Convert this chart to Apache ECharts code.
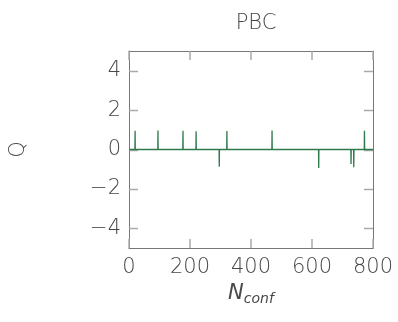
<!DOCTYPE html>
<html><head><meta charset="utf-8">
<script src="https://cdn.jsdelivr.net/npm/echarts@6/dist/echarts.min.js"></script>
<style>html,body{margin:0;padding:0;background:#fff}#c{width:398px;height:322px}</style>
</head><body><div id="c"></div>
<script>
// Data
var spikeN = [20, 58, 95, 177, 220, 296, 321, 424, 469, 622, 728, 737, 772];
var spikeQ = [0.95, 0.05, 0.97, 0.95, 0.93, -0.87, 0.94, 0.1, 0.97, -0.94, -0.74, -0.9, 0.95];
var xTicks = [0, 200, 400, 600, 800];
var yTicks = [-4, -2, 0, 2, 4];
var titleText = 'PBC';

var pts = [[0, 0]];
for (var i = 0; i < spikeN.length; i++) {
  pts.push([spikeN[i] - 0.6, 0]);
  pts.push([spikeN[i], spikeQ[i]]);
  pts.push([spikeN[i] + 0.6, 0]);
}
pts.push([800, 0]);

var font = 'DejaVu Sans';
var fw = 200;
var fs = 21;
var txt = '#484848';
var frame = '#777';
var tick = '#aaa';
var tickLen = 9;
var chart = echarts.init(document.getElementById('c'), null, {renderer: 'canvas'});
function tickStyle() {
  return {show: true, inside: true, length: tickLen, lineStyle: {color: tick, width: 1.5}};
}
function xAx(pos, showLabel) {
  var a = {
    type: 'value', min: 0, max: 800, interval: 200, position: pos,
    axisLine: {show: true, onZero: false, lineStyle: {color: frame, width: 1}},
    axisTick: tickStyle(),
    splitLine: {show: false},
    axisLabel: {show: false}
  };
  if (showLabel) {
    a.axisLabel = {show: true, margin: 9, fontFamily: font, fontWeight: fw, fontSize: fs, color: txt,
      formatter: function (v) { return xTicks.indexOf(v) >= 0 ? String(v) : ''; }};
    a.name = '{i|N}{s|conf}';
    a.nameLocation = 'middle';
    a.nameGap = 34;
    a.nameTextStyle = {rich: {
      i: {fontFamily: font, fontStyle: 'italic', fontWeight: fw, fontSize: fs, color: txt},
      s: {fontFamily: font, fontStyle: 'italic', fontWeight: fw, fontSize: 14, color: txt, verticalAlign: 'bottom', padding: [10, 0, 0, 0]}
    }};
  }
  return a;
}
function yAx(pos, showLabel) {
  var a = {
    type: 'value', min: -5, max: 5, position: pos,
    axisLine: {show: true, onZero: false, lineStyle: {color: frame, width: 1}},
    axisTick: {show: false},
    splitLine: {show: false},
    axisLabel: {show: false}
  };
  if (showLabel) {
    a.axisLabel = {show: true, margin: 8, fontFamily: font, fontWeight: fw, fontSize: fs, color: txt,
      customValues: yTicks,
      formatter: function (v) { return v < 0 ? '\u2212' + Math.abs(v) : String(v); }};
    a.name = 'Q';
    a.nameLocation = 'middle';
    a.nameGap = 100;
    a.nameRotate = 90;
    a.nameTextStyle = {fontFamily: font, fontWeight: fw, fontSize: fs, color: txt};
  }
  return a;
}
chart.setOption({
  animation: false,
  title: {text: titleText, left: 251, top: 8, textAlign: 'center',
    textStyle: {fontFamily: font, fontWeight: fw, fontSize: fs, color: txt}},
  grid: {left: 129, right: 25, top: 51, bottom: 74},
  xAxis: [xAx('bottom', true), xAx('top', false)],
  yAxis: [yAx('left', true), yAx('right', false)],
  series: [{
    type: 'line', data: pts, showSymbol: false, symbol: 'none',
    lineStyle: {color: '#2f7a4c', width: 1.3}, z: 3
  }]
});
// y-axis tick marks placed through the axis scale
var g = [];
var xl = chart.convertToPixel({xAxisIndex: 0}, 0);
var xr = chart.convertToPixel({xAxisIndex: 0}, 800);
yTicks.forEach(function (v) {
  var y = Math.round(chart.convertToPixel({yAxisIndex: 0}, v)) + 0.5;
  g.push({type: 'line', shape: {x1: xl, y1: y, x2: xl + tickLen, y2: y}, style: {stroke: tick, lineWidth: 1.5}, z: 2});
  g.push({type: 'line', shape: {x1: xr, y1: y, x2: xr - tickLen, y2: y}, style: {stroke: tick, lineWidth: 1.5}, z: 2});
});
chart.setOption({graphic: g});
</script></body></html>
